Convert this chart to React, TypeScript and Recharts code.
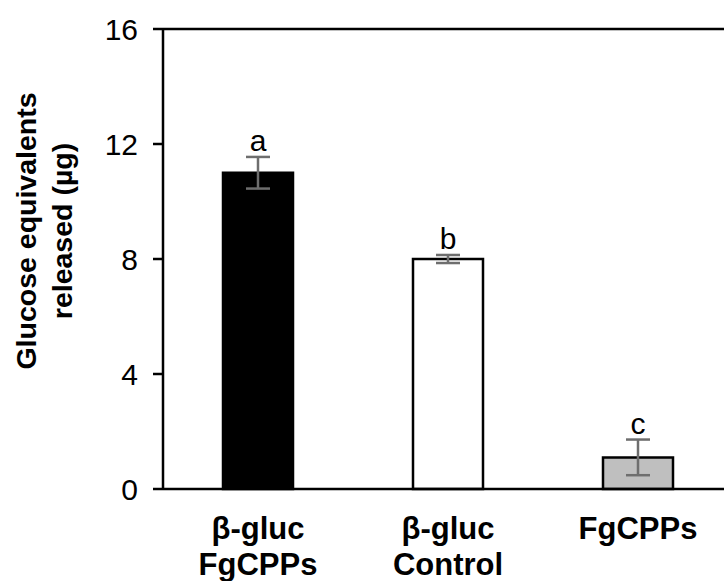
import React from "react";
import {
  ComposedChart,
  Bar,
  Cell,
  XAxis,
  YAxis,
  ErrorBar,
  LabelList,
  ReferenceLine,
} from "recharts";

// Treatments on the x axis (each label split over lines)
const categories: string[][] = [
  ["β-gluc", "FgCPPs"],
  ["β-gluc", "Control"],
  ["FgCPPs"],
];
// Mean glucose equivalents released (µg)
const means: number[] = [11.0, 8.0, 1.1];
// Standard errors
const errors: number[] = [0.55, 0.14, 0.62];
// Significance letters
const letters: string[] = ["a", "b", "c"];
// Bar fills
const fills: string[] = ["#000000", "#ffffff", "#bfbfbf"];
// Y axis ticks
const yTicks: number[] = [0, 4, 8, 12, 16];

const data = categories.map((lines, i) => ({
  name: lines.join(" "),
  lines,
  value: means[i],
  err: errors[i],
  letter: letters[i],
}));

const FONT = "'Liberation Sans', Arial, sans-serif";

const XTick = (props: any) => {
  const { x, y, payload } = props;
  const item = data[payload.index] ?? data.find((d) => d.name === payload.value);
  const lines = item ? item.lines : [String(payload.value)];
  return (
    <g>
      {lines.map((line: string, i: number) => (
        <text
          key={i}
          x={x}
          y={y + 50 + i * 36}
          textAnchor="middle"
          fontFamily={FONT}
          fontWeight="bold"
          fontSize={31}
          fill="#000"
        >
          {line}
        </text>
      ))}
    </g>
  );
};

const LetterLabel = (props: any) => {
  const { x, y, width, height, index } = props;
  const d = data[index];
  const pxPerUnit = height / d.value;
  const top = y - d.err * pxPerUnit;
  return (
    <text
      x={x + width / 2}
      y={top - 6}
      textAnchor="middle"
      fontFamily={FONT}
      fontSize={30}
      fill="#000"
    >
      {d.letter}
    </text>
  );
};

const YTitle = () => (
  <g>
    <text
      transform="translate(36,231) rotate(-90)"
      textAnchor="middle"
      fontFamily={FONT}
      fontWeight="bold"
      fontSize={28.5}
      fill="#000"
    >
      Glucose equivalents
    </text>
    <text
      transform="translate(72,231) rotate(-90)"
      textAnchor="middle"
      fontFamily={FONT}
      fontWeight="bold"
      fontSize={28.5}
      fill="#000"
    >
      released (µg)
    </text>
  </g>
);

export default function App() {
  return (
    <div
      style={{
        position: "absolute",
        left: 0,
        top: 0,
        width: 724,
        height: 581,
        overflow: "hidden",
        background: "#fff",
      }}
    >
      <ComposedChart
        width={740}
        height={581}
        data={data}
        margin={{ top: 29, right: 7, bottom: 0, left: 0 }}
      >
        <XAxis
          dataKey="name"
          height={92}
          tickLine={false}
          tickSize={0}
          tickMargin={0}
          axisLine={{ stroke: "#000", strokeWidth: 2.5 }}
          tick={<XTick />}
          interval={0}
        />
        <YAxis
          width={163}
          domain={[0, 16]}
          ticks={yTicks}
          tickSize={10}
          tickMargin={15}
          axisLine={{ stroke: "#000", strokeWidth: 2.5 }}
          tickLine={{ stroke: "#000", strokeWidth: 2.5 }}
          tick={{ fill: "#000", fontSize: 30, fontFamily: FONT }}
          label={{ content: <YTitle /> }}
        />
        <ReferenceLine y={16} stroke="#000" strokeWidth={2.5} />
        <Bar
          dataKey="value"
          barSize={70}
          stroke="#000"
          strokeWidth={2.5}
          isAnimationActive={false}
        >
          {data.map((d, i) => (
            <Cell key={d.name} fill={fills[i]} />
          ))}
          <ErrorBar
            dataKey="err"
            width={12}
            stroke="#6e6e6e"
            strokeWidth={2.5}
            direction="y"
          />
          <LabelList dataKey="letter" content={<LetterLabel />} />
        </Bar>
      </ComposedChart>
    </div>
  );
}
